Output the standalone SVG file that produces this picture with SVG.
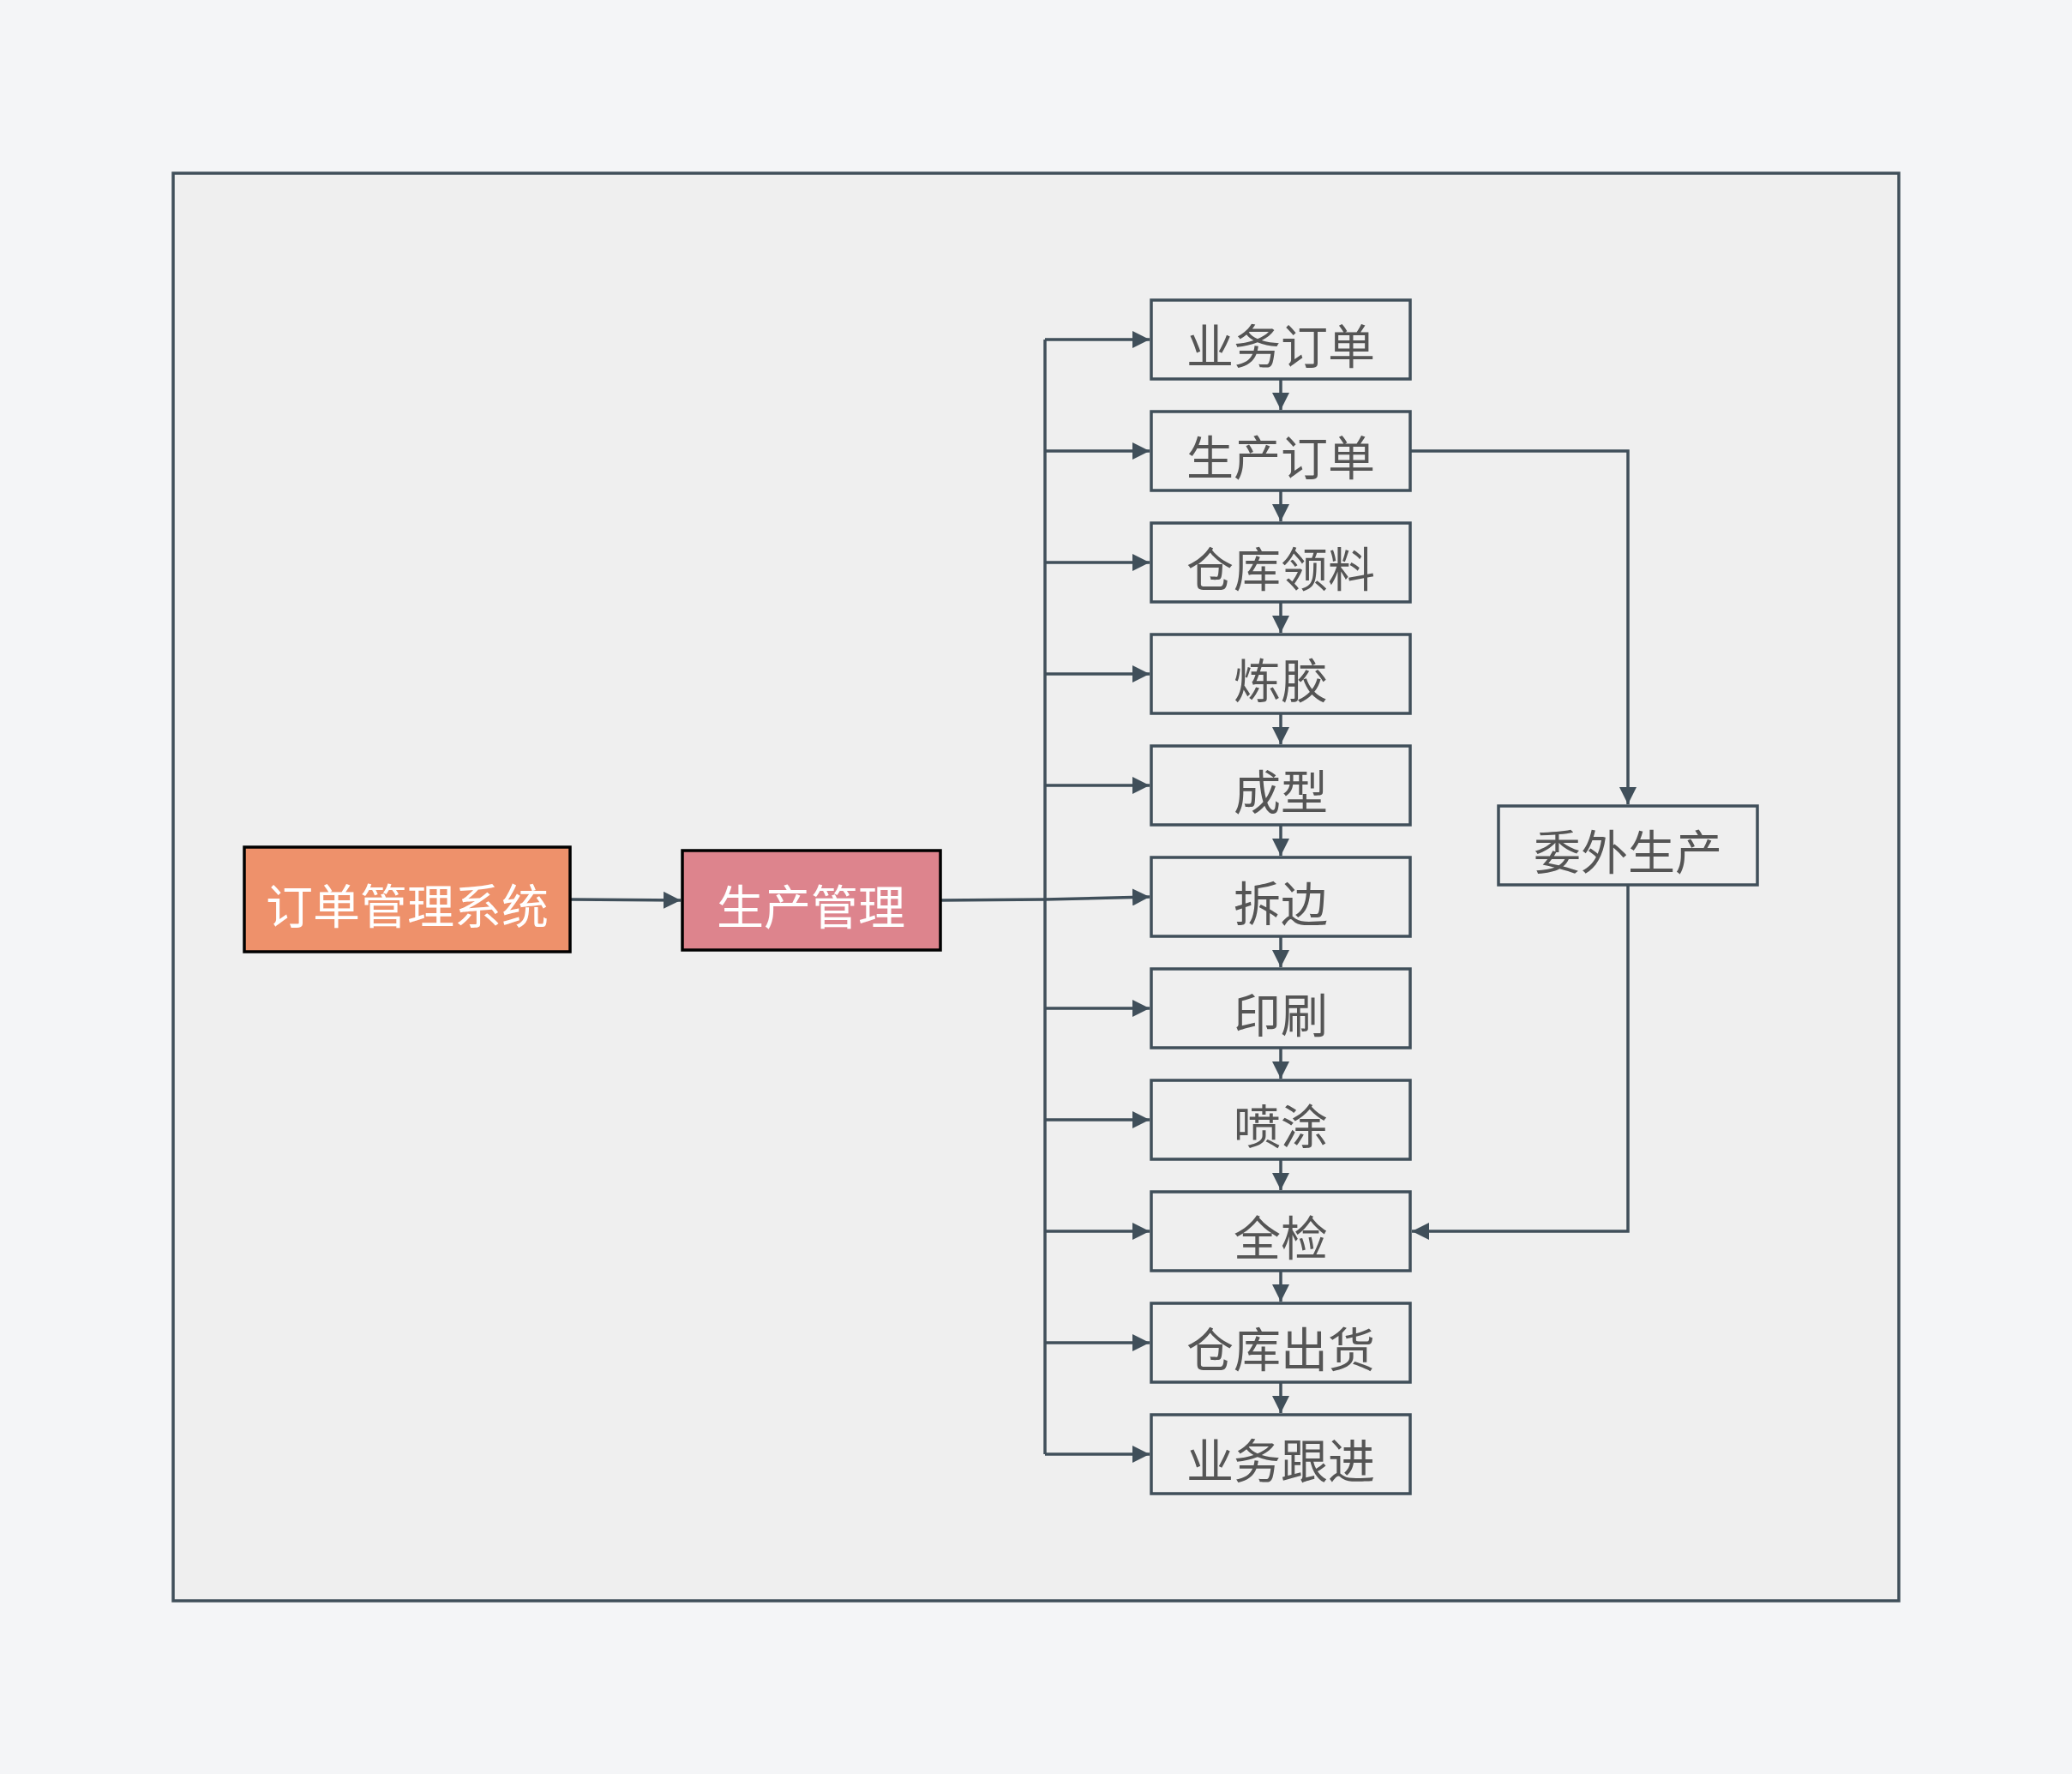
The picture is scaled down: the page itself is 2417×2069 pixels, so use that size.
<svg xmlns="http://www.w3.org/2000/svg" width="2417" height="2069" viewBox="0 0 2417 2069">
<defs>
<marker id="arr" viewBox="0 0 20 20" refX="20" refY="10" markerWidth="20" markerHeight="20" markerUnits="userSpaceOnUse" orient="auto">
<path d="M0,0 L20,10 L0,20 Z" fill="#404f5a"/>
</marker>
<style>
.step rect{fill:none;stroke:#404f5a;stroke-width:3.5}
.step text{font-family:"Noto Sans CJK SC","Noto Sans",sans-serif;font-size:55px;fill:#555555;text-anchor:middle;dominant-baseline:central}
.main rect{stroke:#000;stroke-width:3.5}
.main text{font-family:"Noto Sans CJK SC","Noto Sans",sans-serif;font-size:55px;fill:#ffffff;text-anchor:middle;dominant-baseline:central}
.conn path{fill:none;stroke:#404f5a;stroke-width:3.5}
.conn path.a{marker-end:url(#arr)}
</style>
</defs>
<rect x="0" y="0" width="2417" height="2069" fill="#f4f5f7"/>
<rect id="frame" x="202" y="202" width="2013" height="1665" fill="#efefef" stroke="#404f5a" stroke-width="3.5"/>

<g id="connectors" class="conn">
<path class="a" d="M665,1049 L794,1050"/>
<path d="M1097,1050 L1219,1049 L1341,1046" class="a"/>
<path d="M1219,396 L1219,1696"/>
<path class="a" d="M1219,396 L1341,396"/>
<path class="a" d="M1219,526 L1341,526"/>
<path class="a" d="M1219,656 L1341,656"/>
<path class="a" d="M1219,786 L1341,786"/>
<path class="a" d="M1219,916 L1341,916"/>
<path class="a" d="M1219,1176 L1341,1176"/>
<path class="a" d="M1219,1306 L1341,1306"/>
<path class="a" d="M1219,1436 L1341,1436"/>
<path class="a" d="M1219,1566 L1341,1566"/>
<path class="a" d="M1219,1696 L1341,1696"/>
<path class="a" d="M1494,442 L1494,478"/>
<path class="a" d="M1494,572 L1494,608"/>
<path class="a" d="M1494,702 L1494,738"/>
<path class="a" d="M1494,832 L1494,868"/>
<path class="a" d="M1494,962 L1494,998"/>
<path class="a" d="M1494,1092 L1494,1128"/>
<path class="a" d="M1494,1222 L1494,1258"/>
<path class="a" d="M1494,1352 L1494,1388"/>
<path class="a" d="M1494,1482 L1494,1518"/>
<path class="a" d="M1494,1612 L1494,1648"/>
<path class="a" d="M1645,526 L1899,526 L1899,938"/>
<path class="a" d="M1899,1032 L1899,1436 L1647,1436"/>
</g>

<g id="n-order-sys" class="main"><rect x="285" y="988" width="380" height="122" fill="#ee916b"/><text x="475" y="1053">订单管理系统</text></g>
<g id="n-prod-mgmt" class="main"><rect x="796" y="992" width="301" height="116" fill="#dd848d"/><text x="946" y="1054">生产管理</text></g>

<g id="n1" class="step"><rect x="1343" y="350" width="302" height="92"/><text x="1494" y="400">业务订单</text></g>
<g id="n2" class="step"><rect x="1343" y="480" width="302" height="92"/><text x="1494" y="530">生产订单</text></g>
<g id="n3" class="step"><rect x="1343" y="610" width="302" height="92"/><text x="1494" y="660">仓库领料</text></g>
<g id="n4" class="step"><rect x="1343" y="740" width="302" height="92"/><text x="1494" y="790">炼胶</text></g>
<g id="n5" class="step"><rect x="1343" y="870" width="302" height="92"/><text x="1494" y="920">成型</text></g>
<g id="n6" class="step"><rect x="1343" y="1000" width="302" height="92"/><text x="1494" y="1050">拆边</text></g>
<g id="n7" class="step"><rect x="1343" y="1130" width="302" height="92"/><text x="1494" y="1180">印刷</text></g>
<g id="n8" class="step"><rect x="1343" y="1260" width="302" height="92"/><text x="1494" y="1310">喷涂</text></g>
<g id="n9" class="step"><rect x="1343" y="1390" width="302" height="92"/><text x="1494" y="1440">全检</text></g>
<g id="n10" class="step"><rect x="1343" y="1520" width="302" height="92"/><text x="1494" y="1570">仓库出货</text></g>
<g id="n11" class="step"><rect x="1343" y="1650" width="302" height="92"/><text x="1494" y="1700">业务跟进</text></g>
<g id="n-outsource" class="step"><rect x="1748" y="940" width="302" height="92"/><text x="1899" y="990">委外生产</text></g>
</svg>
